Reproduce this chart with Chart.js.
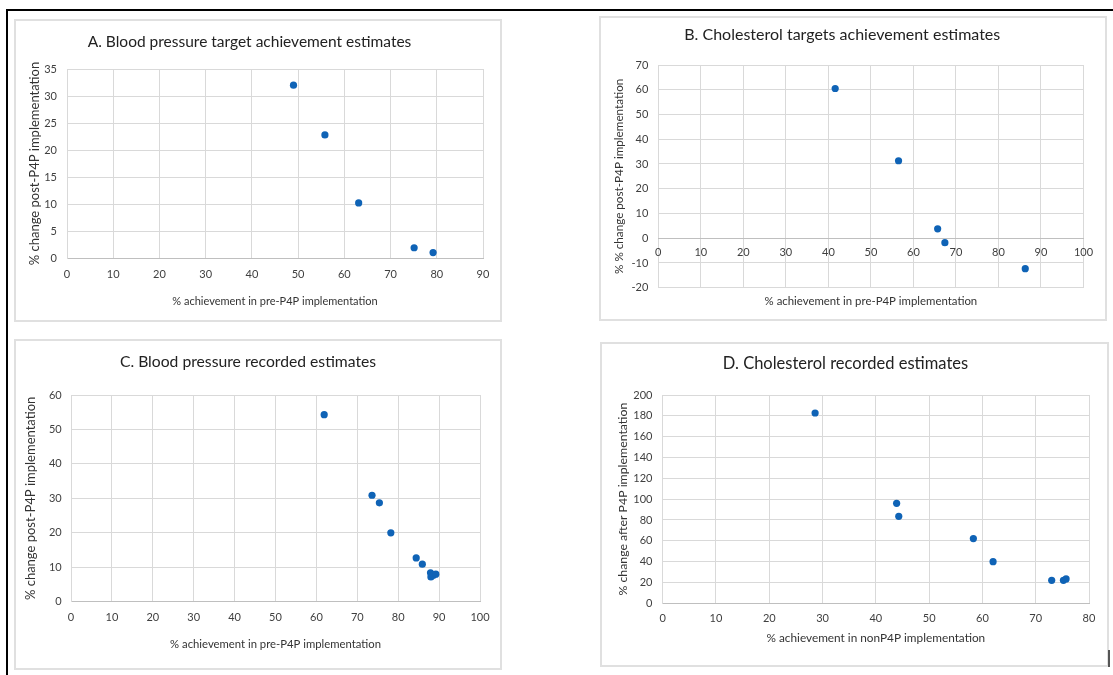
<!DOCTYPE html>
<html lang="en">
<head>
<meta charset="UTF-8">
<title>P4P achievement estimates</title>
<style>
  body { margin: 0; background: #fff; width: 1113px; height: 675px; overflow: hidden; position: relative; font-family: Lato, sans-serif; }
  .frame { position: absolute; left: 6px; top: 9px; width: 1120px; height: 680px; border-left: 2px solid #000; border-top: 2px solid #000; }
  .panel { position: absolute; box-sizing: border-box; border: 2px solid #e0e0e0; background: #fff; }
  .panel canvas { display: block; }
  .mark { position: absolute; left: 1108px; top: 650px; width: 2px; height: 17px; background: #555; }
</style>
</head>
<body>
<div class="frame"></div>
<div class="panel" style="left:14px;top:19px;width:488px;height:303px"><canvas id="chartA" width="484" height="299"></canvas></div>
<div class="panel" style="left:599px;top:16px;width:508px;height:305px"><canvas id="chartB" width="504" height="301"></canvas></div>
<div class="panel" style="left:14px;top:339px;width:488px;height:331px"><canvas id="chartC" width="484" height="327"></canvas></div>
<div class="panel" style="left:600px;top:342px;width:509px;height:325px"><canvas id="chartD" width="505" height="321"></canvas></div>
<div class="mark"></div>

<script src="https://cdn.jsdelivr.net/npm/chart.js"></script>
<script>
// A. blood pressure target achievement
const bpTargetPre = [49.0, 55.8, 63.1, 75.1, 79.2];
const bpTargetChange = [32.0, 22.8, 10.2, 1.9, 1.0];
const bpTargetXTicks = [0, 10, 20, 30, 40, 50, 60, 70, 80, 90];
const bpTargetYTicks = [0, 5, 10, 15, 20, 25, 30, 35];

// B. cholesterol targets achievement
const cholTargetPre = [41.6, 56.5, 65.7, 67.4, 86.3];
const cholTargetChange = [60.5, 31.3, 3.8, -1.8, -12.3];
const cholTargetXTicks = [0, 10, 20, 30, 40, 50, 60, 70, 80, 90, 100];
const cholTargetYTicks = [-20, -10, 0, 10, 20, 30, 40, 50, 60, 70];

// C. blood pressure recorded
const bpRecordedPre = [61.9, 73.6, 75.4, 78.2, 84.4, 85.9, 87.9, 88.0, 88.6, 89.2];
const bpRecordedChange = [54.3, 30.9, 28.7, 20.0, 12.7, 10.9, 8.4, 7.2, 7.7, 8.0];
const bpRecordedXTicks = [0, 10, 20, 30, 40, 50, 60, 70, 80, 90, 100];
const bpRecordedYTicks = [0, 10, 20, 30, 40, 50, 60];

// D. cholesterol recorded
const cholRecordedNonP4P = [28.6, 43.9, 44.3, 58.3, 62.0, 73.0, 75.2, 75.7];
const cholRecordedChange = [182.7, 96.0, 83.5, 62.1, 40.0, 22.1, 22.1, 23.4];
const cholRecordedXTicks = [0, 10, 20, 30, 40, 50, 60, 70, 80];
const cholRecordedYTicks = [0, 20, 40, 60, 80, 100, 120, 140, 160, 180, 200];

const dotColor = '#0f63b6';
const gridColor = '#d9d9d9';
const axisColor = '#bfbfbf';
const tickColor = '#3f3f3f';
const labelColor = '#333333';
const fontFamily = 'Lato, "Liberation Sans", sans-serif';

function scatterChart(id, o) {
    const el = document.getElementById(id);
    const W = el.width, H = el.height;
    const tfs = o.titleSize, tlh = tfs * 1.2;
    const lfs = 11, llh = lfs * 1.2;
    const xfs = o.xTitleSize, xlh = xfs * 1.2;
    const yfs = o.yTitleSize, ylh = yfs * 1.2;
    const xMin = o.xTicks[0], xMax = o.xTicks[o.xTicks.length - 1], xStep = o.xTicks[1] - o.xTicks[0];
    const yMin = o.yTicks[0], yMax = o.yTicks[o.yTicks.length - 1], yStep = o.yTicks[1] - o.yTicks[0];

    const scales = {
        x: {
            type: 'linear', min: xMin, max: xMax,
            ticks: { stepSize: xStep, display: !o.zeroAxis, padding: o.xTickCenter - llh / 2,
                     color: tickColor, font: { family: fontFamily, size: lfs } },
            grid: { color: gridColor, drawTicks: false },
            border: { color: o.zeroAxis ? gridColor : axisColor },
            title: { display: true, text: o.xTitle, color: labelColor,
                     font: { family: fontFamily, size: xfs },
                     padding: { top: 0, bottom: H - o.xTitleY - xlh / 2 } },
            afterFit: s => { s.height = H - o.area.bottom; }
        },
        y: {
            type: 'linear', min: yMin, max: yMax,
            ticks: { stepSize: yStep, padding: o.yTickPad, color: tickColor,
                     font: { family: fontFamily, size: lfs } },
            grid: { color: gridColor, drawTicks: false },
            border: { color: gridColor },
            title: { display: true, text: o.yTitle, color: labelColor,
                     font: { family: fontFamily, size: yfs },
                     padding: { top: o.yTitleX - ylh / 2, bottom: 0 } },
            afterFit: s => { s.width = o.area.left; }
        }
    };
    if (o.zeroAxis) {
        // labels sit on the y = 0 line, like Excel does with negative values
        scales.x0 = {
            type: 'linear', position: { y: 0 }, min: xMin, max: xMax,
            ticks: { stepSize: xStep, padding: o.xTickCenter - llh / 2, color: tickColor,
                     font: { family: fontFamily, size: lfs } },
            grid: { display: false, drawTicks: false },
            border: { color: axisColor },
            afterFit: s => { s.height = 0; }
        };
    }

    return new Chart(el, {
        type: 'scatter',
        data: {
            datasets: [{
                data: o.xs.map((x, i) => ({ x: x, y: o.ys[i] })),
                xAxisID: 'x', yAxisID: 'y',
                pointRadius: 3.6, pointHoverRadius: 3.6,
                pointBackgroundColor: dotColor, pointBorderWidth: 0
            }]
        },
        options: {
            responsive: false, animation: false,
            events: [],
            layout: { padding: { left: 0, top: 0, right: W - o.area.right, bottom: 0 } },
            plugins: {
                legend: { display: false },
                tooltip: { enabled: false },
                title: {
                    display: true, text: o.title, color: '#222222',
                    font: { family: fontFamily, size: tfs, weight: 'normal' },
                    padding: { top: o.titleY - tlh / 2, bottom: o.area.top - o.titleY - tlh / 2 }
                }
            },
            scales: scales
        }
    });
}

scatterChart('chartA', {
    title: 'A. Blood pressure target achievement estimates',
    xTitle: '% achievement in pre-P4P implementation',
    yTitle: '% change post-P4P implementation',
    xs: bpTargetPre, ys: bpTargetChange,
    xTicks: bpTargetXTicks, yTicks: bpTargetYTicks,
    area: { left: 51, right: 467, top: 48, bottom: 237 },
    titleSize: 15.5, xTitleSize: 11, yTitleSize: 13,
    titleY: 21, yTitleX: 19, yTickPad: 10, xTickCenter: 16, xTitleY: 280
});

scatterChart('chartB', {
    title: 'B. Cholesterol targets achievement estimates',
    xTitle: '% achievement in pre-P4P implementation',
    yTitle: '% % change post-P4P implementation',
    xs: cholTargetPre, ys: cholTargetChange,
    xTicks: cholTargetXTicks, yTicks: cholTargetYTicks,
    zeroAxis: true,
    area: { left: 57.3, right: 482.5, top: 47, bottom: 269.7 },
    titleSize: 16, xTitleSize: 11.4, yTitleSize: 11.7,
    titleY: 17, yTitleX: 18, yTickPad: 10, xTickCenter: 14.4, xTitleY: 283
});

scatterChart('chartC', {
    title: 'C. Blood pressure recorded estimates',
    xTitle: '% achievement in pre-P4P implementation',
    yTitle: '% change post-P4P implementation',
    xs: bpRecordedPre, ys: bpRecordedChange,
    xTicks: bpRecordedXTicks, yTicks: bpRecordedYTicks,
    area: { left: 55, right: 464, top: 54, bottom: 260.7 },
    titleSize: 15.7, xTitleSize: 11.3, yTitleSize: 13,
    titleY: 21.3, yTitleX: 14.7, yTickPad: 9.3, xTickCenter: 15.6, xTitleY: 303
});

scatterChart('chartD', {
    title: 'D. Cholesterol recorded estimates',
    xTitle: '% achievement in nonP4P implementation',
    yTitle: '% change after P4P implementation',
    xs: cholRecordedNonP4P, ys: cholRecordedChange,
    xTicks: cholRecordedXTicks, yTicks: cholRecordedYTicks,
    area: { left: 60.7, right: 487, top: 51, bottom: 259.3 },
    titleSize: 16.5, xTitleSize: 11.8, yTitleSize: 12.3,
    titleY: 19.3, yTitleX: 21.3, yTickPad: 10.3, xTickCenter: 15.3, xTitleY: 294.3
});
</script>
</body>
</html>
